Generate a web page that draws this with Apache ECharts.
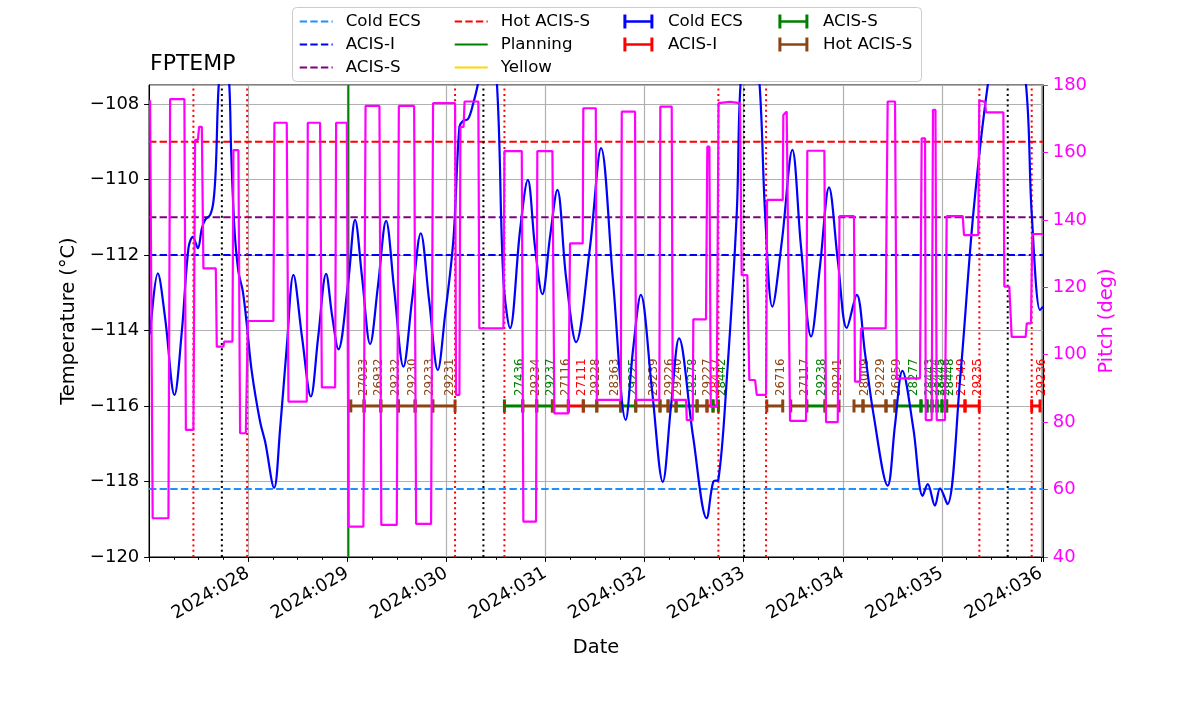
<!DOCTYPE html>
<html><head><meta charset="utf-8">
<script src="https://cdn.jsdelivr.net/npm/echarts@6/dist/echarts.min.js"></script>
<style>html,body{margin:0;padding:0;background:#fff}#chart{width:1200px;height:714px}</style>
</head><body><div id="chart"></div>
<script>
// ---------- data (day of year 2024) ----------
const tempDays = [27.011,27.089,27.163,27.257,27.331,27.398,27.442,27.493,27.533,27.566,27.617,27.650,27.674,27.694,27.707,27.758,27.808,27.829,27.862,27.902,27.947,27.987,28.037,28.121,28.172,28.262,28.323,28.390,28.457,28.545,28.633,28.706,28.787,28.847,28.911,29.012,29.079,29.150,29.231,29.311,29.392,29.473,29.567,29.654,29.742,29.826,29.914,29.987,30.071,30.132,30.169,30.219,30.270,30.323,30.411,30.509,30.576,30.643,30.744,30.822,30.895,30.969,31.047,31.120,31.208,31.309,31.450,31.561,31.682,31.810,31.884,31.962,32.076,32.184,32.267,32.348,32.489,32.627,32.694,32.744,32.829,32.930,32.970,33.064,33.158,33.216,33.289,33.387,33.491,33.579,33.680,33.770,33.861,33.952,34.040,34.141,34.224,34.308,34.453,34.527,34.601,34.712,34.806,34.857,34.930,34.981,35.055,35.183,35.317,35.468,35.657,35.845,35.906,35.990,36.020];
const tempValues = [-114.10,-112.49,-113.68,-115.71,-114.03,-111.82,-111.52,-111.82,-111.30,-111.07,-110.94,-110.59,-109.71,-108.03,-107.40,-106.30,-107.40,-109.26,-111.30,-112.44,-112.97,-113.85,-115.09,-116.42,-116.95,-118.17,-116.60,-114.43,-112.53,-114.20,-115.75,-114.20,-112.50,-113.60,-114.50,-112.66,-111.07,-112.60,-114.36,-112.80,-111.10,-112.90,-114.96,-113.20,-111.43,-113.20,-115.05,-113.60,-111.60,-108.60,-108.45,-108.40,-108.00,-107.40,-105.50,-107.40,-112.66,-113.94,-111.34,-110.01,-111.80,-113.04,-111.50,-110.28,-112.60,-114.31,-111.78,-109.17,-112.70,-116.37,-114.50,-113.06,-115.60,-118.01,-116.00,-114.21,-116.80,-118.97,-118.00,-117.96,-115.31,-110.90,-107.40,-105.50,-107.40,-110.90,-113.37,-111.60,-109.22,-111.80,-114.16,-112.30,-110.21,-112.20,-113.93,-113.06,-114.60,-116.19,-118.11,-116.50,-115.07,-116.60,-118.38,-118.07,-118.64,-118.18,-118.60,-115.31,-110.90,-107.40,-104.50,-107.40,-110.90,-113.46,-113.37];

const pitchDays = [27.011,27.027,27.037,27.196,27.213,27.357,27.372,27.448,27.465,27.493,27.506,27.533,27.549,27.674,27.684,27.751,27.758,27.842,27.852,27.902,27.919,27.977,27.997,28.255,28.265,28.390,28.407,28.592,28.602,28.726,28.744,28.878,28.888,28.996,29.014,29.163,29.185,29.325,29.344,29.500,29.521,29.675,29.695,29.846,29.866,30.088,30.098,30.132,30.142,30.174,30.184,30.323,30.333,30.576,30.586,30.761,30.777,30.905,30.918,31.070,31.090,31.231,31.248,31.376,31.382,31.508,31.518,31.760,31.770,31.904,31.914,32.149,32.159,32.274,32.284,32.419,32.426,32.486,32.492,32.620,32.633,32.654,32.668,32.728,32.746,32.862,32.963,32.980,33.037,33.057,33.115,33.132,33.226,33.236,33.394,33.400,33.434,33.451,33.468,33.629,33.642,33.814,33.831,33.949,33.967,34.113,34.123,34.174,34.184,34.433,34.443,34.453,34.527,34.544,34.779,34.796,34.830,34.837,34.897,34.910,34.935,34.948,35.031,35.048,35.210,35.223,35.367,35.377,35.435,35.445,35.620,35.630,35.680,35.704,35.845,35.856,35.899,35.912,36.020];
const pitchValues = [175.5,175.5,51.5,51.5,175.8,175.8,77.7,77.7,163.7,163.7,167.6,167.6,125.6,125.6,102.4,102.4,103.9,103.9,160.7,160.7,76.7,76.7,110.0,110.0,168.8,168.8,86.1,86.1,168.8,168.8,90.3,90.3,168.8,168.8,49.0,49.0,173.8,173.8,49.5,49.5,173.8,173.8,49.8,49.8,174.6,174.6,88.1,88.1,167.6,167.6,175.1,175.1,107.8,107.8,160.4,160.4,50.5,50.5,160.4,160.4,82.6,82.6,133.0,133.0,173.1,173.1,86.6,86.6,172.1,172.1,86.6,86.6,173.6,173.6,86.6,86.6,80.6,80.6,110.5,110.5,161.7,161.7,84.6,84.6,174.6,175.0,174.6,123.6,123.6,92.5,92.5,88.1,88.1,145.9,145.9,171.1,172.1,172.1,80.4,80.4,160.5,160.5,80.0,80.0,141.1,141.1,92.0,92.0,107.8,107.8,146.4,175.1,175.1,93.0,93.0,164.2,164.2,80.6,80.6,172.6,172.6,80.6,80.6,141.1,141.1,135.5,135.5,175.4,175.0,171.9,171.9,120.2,120.2,105.3,105.3,109.3,109.3,135.8,135.8];

// limit lines (Planning / Yellow limits lie outside the plotted range)
const limitNames  = ['Cold ECS','ACIS-I','ACIS-S','Hot ACIS-S','Planning','Yellow'];
const limitValues = [-118.2, -112, -111, -109, null, null];
const limitColors = ['#1e90ff','#0000ff','#800080','#ff0000','#008000','#ffd700'];

// vertical markers
const radDays   = [27.448, 27.990, 30.088, 30.586, 32.745, 33.226, 35.378, 35.906];
const orbitDays = [27.735, 30.374, 33.004, 35.664];
const nowDay    = 29.012;

// observations
const obsLevel = -116;
const obsStart = [29.036,29.170,29.339,29.516,29.685,29.863,30.586,30.771,30.912,31.070,31.231,31.382,31.518,31.760,31.911,32.156,32.237,32.318,32.530,32.630,32.691,33.233,33.475,33.636,33.821,34.113,34.204,34.436,34.527,34.789,34.850,34.900,34.951,35.001,35.048,35.233,35.906];
const obsEnd   = [29.170,29.339,29.516,29.685,29.863,30.088,30.771,30.912,31.070,31.231,31.382,31.518,31.760,31.911,32.156,32.237,32.318,32.530,32.630,32.691,32.745,33.394,33.636,33.821,33.962,34.204,34.436,34.527,34.789,34.850,34.900,34.951,35.001,35.048,35.233,35.377,35.990];
const obsIds   = ['27033','26932','29232','29230','29233','29231','27436','29234','29237','27116','27111','29228','28363','29225','29239','29226','29240','28278','29227','28437','28442','26716','27117','29238','29241','28009','29229','26859','28277','28443','28444','28445','28446','28448','27349','29235','29236'];
const obsInst  = ['Hot ACIS-S','Hot ACIS-S','Hot ACIS-S','Hot ACIS-S','Hot ACIS-S','Hot ACIS-S','ACIS-S','Hot ACIS-S','ACIS-S','Hot ACIS-S','ACIS-I','Hot ACIS-S','Hot ACIS-S','ACIS-S','Hot ACIS-S','Hot ACIS-S','Hot ACIS-S','ACIS-S','Hot ACIS-S','ACIS-I','ACIS-S','Hot ACIS-S','Hot ACIS-S','ACIS-S','Hot ACIS-S','Hot ACIS-S','Hot ACIS-S','Hot ACIS-S','ACIS-S','ACIS-S','ACIS-S','ACIS-S','ACIS-S','ACIS-S','ACIS-I','ACIS-I','ACIS-I'];
const instNames  = ['Cold ECS','ACIS-I','ACIS-S','Hot ACIS-S'];
const instColors = ['#0000ff','#ff0000','#008000','#8b4513'];

// ---------- chart ----------
const FONT = 'DejaVu Sans';
const FS_LEG = 16.67, FS_TICK = 18, FS_NAME = 19.4;
const X0 = 27, X1 = 36.02, Y0 = -120, Y1 = -107.5;
const chart = echarts.init(document.getElementById('chart'), null, {renderer: 'canvas'});

const series = [];
limitNames.forEach((n, i) => {
  series.push({
    name: n, type: 'line', xAxisIndex: 0, yAxisIndex: 0, symbol: 'none', z: 3,
    data: limitValues[i] === null ? [] : [[X0, limitValues[i]], [X1, limitValues[i]]],
    lineStyle: {color: limitColors[i], width: 2, type: i < 4 ? [7.4, 3.2] : 'solid'},
    itemStyle: {color: limitColors[i]}, silent: true
  });
});
function vline(day, color, dashed) {
  series.push({
    type: 'line', symbol: 'none', z: 4, silent: true,
    data: [[day, Y0], [day, Y1]],
    lineStyle: {color: color, width: 2, type: dashed ? [2, 3.3] : 'solid'}
  });
}
radDays.forEach(d => vline(d, '#ff0000', true));
orbitDays.forEach(d => vline(d, '#000000', true));
vline(nowDay, '#008000', false);

const errIcon = 'path://M0,0h3v14h-3z M27,0h3v14h-3z M0,5.8h30v2.4h-30z';
instNames.forEach((inst, k) => {
  const data = [];
  obsInst.forEach((v, i) => { if (v === inst) data.push([obsStart[i], obsEnd[i], obsLevel, i]); });
  series.push({
    name: 'obs:' + inst, type: 'custom', z: 3, silent: true,
    itemStyle: {color: instColors[k]},
    encode: {x: [0, 1], y: 2},
    data: data,
    renderItem: (params, api) => {
      const i = api.value(3);
      const p0 = api.coord([api.value(0), api.value(2)]);
      const p1 = api.coord([api.value(1), api.value(2)]);
      const col = instColors[k], cap = 6.5;
      const mid = (p0[0] + p1[0]) / 2;
      return {type: 'group', children: [
        {type: 'line', shape: {x1: p0[0], y1: p0[1], x2: p1[0], y2: p1[1]}, style: {stroke: col, lineWidth: 3}},
        {type: 'line', shape: {x1: p0[0], y1: p0[1] - cap, x2: p0[0], y2: p0[1] + cap}, style: {stroke: col, lineWidth: 3}},
        {type: 'line', shape: {x1: p1[0], y1: p1[1] - cap, x2: p1[0], y2: p1[1] + cap}, style: {stroke: col, lineWidth: 3}},
        {type: 'text', x: mid, y: p0[1] - 10, rotation: Math.PI / 2,
         style: {text: obsIds[i], fill: col, font: '11.8px "DejaVu Sans"', align: 'left', verticalAlign: 'top'}}
      ]};
    }
  });
});

series.push({
  name: 'FPTEMP', type: 'line', xAxisIndex: 0, yAxisIndex: 0, symbol: 'none', z: 5,
  smooth: 0.35, data: tempDays.map((d, i) => [d, tempValues[i]]),
  lineStyle: {color: '#0000ff', width: 2.2}, silent: true
});
series.push({
  name: 'Pitch', type: 'line', xAxisIndex: 0, yAxisIndex: 1, symbol: 'none', z: 6,
  data: pitchDays.map((d, i) => [d, pitchValues[i]]),
  lineStyle: {color: '#ff00ff', width: 2.2}, silent: true
});

function legendCol(left, names, isLine) {
  const l = {
    orient: 'vertical', left: left, top: 13, padding: 0, itemGap: 6,
    itemWidth: 33, itemHeight: 14, selectedMode: false,
    textStyle: {fontFamily: FONT, fontSize: FS_LEG, color: '#000', lineHeight: 14, padding: [0, 0, 0, 8]},
    formatter: n => n.replace('obs:', ''),
    data: names.map(n => n.startsWith('obs:') ? {name: n, icon: errIcon} : {name: n})
  };
  if (isLine) { l.itemStyle = {opacity: 0}; l.lineStyle = {opacity: 1}; }
  return l;
}

const option = {
  animation: false,
  backgroundColor: '#fff',
  title: {text: 'FPTEMP', left: 150, top: 53, padding: 0,
          textStyle: {fontFamily: FONT, fontSize: 22, fontWeight: 'normal', color: '#000'}},
  graphic: [{type: 'rect', left: 292, top: 7, shape: {width: 629, height: 74, r: 4}, z: -1,
             style: {fill: 'rgba(255,255,255,0.8)', stroke: '#cccccc', lineWidth: 1}}],
  legend: [
    legendCol(298.7, ['Cold ECS', 'ACIS-I', 'ACIS-S'], true),
    legendCol(453.7, ['Hot ACIS-S', 'Planning', 'Yellow'], true),
    legendCol(623.4, ['obs:Cold ECS', 'obs:ACIS-I'], false),
    legendCol(778.4, ['obs:ACIS-S', 'obs:Hot ACIS-S'], false)
  ],
  grid: {left: 149, right: 157, top: 85, bottom: 157, show: true, borderColor: '#000', borderWidth: 1, backgroundColor: 'transparent'},
  xAxis: {
    type: 'value', min: X0, max: X1, interval: 1,
    name: 'Date', nameLocation: 'middle', nameGap: 81,
    nameTextStyle: {fontFamily: FONT, fontSize: FS_NAME, color: '#000'},
    axisLine: {onZero: false, lineStyle: {color: '#000', width: 1}},
    axisTick: {length: 4.9, lineStyle: {color: '#000'}},
    minorTick: {show: true, splitNumber: 4, length: 2.8, lineStyle: {color: '#000'}},
    splitLine: {show: true, lineStyle: {color: '#b0b0b0', width: 1.2}},
    axisLabel: {rotate: 30, margin: 15, fontFamily: FONT, fontSize: FS_TICK, color: '#000',
      showMinLabel: false, showMaxLabel: false,
      formatter: v => {
        const r = Math.round(v);
        return (Math.abs(v - r) < 1e-6 && r >= 28 && r <= 36) ? '2024:' + String(r).padStart(3, '0') : '';
      }}
  },
  yAxis: [{
    type: 'value', min: Y0, max: Y1, interval: 2, position: 'left',
    name: 'Temperature (°C)', nameLocation: 'middle', nameGap: 71, nameRotate: 90,
    nameTextStyle: {fontFamily: FONT, fontSize: FS_NAME, color: '#000'},
    axisLine: {show: true, lineStyle: {color: '#000', width: 1}},
    axisTick: {show: true, length: 4.9, lineStyle: {color: '#000'}},
    splitLine: {show: true, lineStyle: {color: '#b0b0b0', width: 1.2}},
    axisLabel: {margin: 9.7, fontFamily: FONT, fontSize: FS_TICK, color: '#000', showMaxLabel: false,
      formatter: v => Math.abs(v - Math.round(v)) < 1e-6 ? String(Math.round(v)).replace('-', '\u2212') : ''}
  }, {
    type: 'value', min: 40, max: 180, interval: 20, position: 'right',
    name: 'Pitch (deg)', nameLocation: 'middle', nameGap: 52, nameRotate: 90,
    nameTextStyle: {fontFamily: FONT, fontSize: FS_NAME, color: '#ff00ff'},
    axisLine: {show: true, lineStyle: {color: '#000', width: 1}},
    axisTick: {show: true, length: 4.9, lineStyle: {color: '#ff00ff'}},
    splitLine: {show: false},
    axisLabel: {margin: 9.7, fontFamily: FONT, fontSize: FS_TICK, color: '#ff00ff'}
  }],
  series: series
};
chart.setOption(option);
</script>
</body></html>
